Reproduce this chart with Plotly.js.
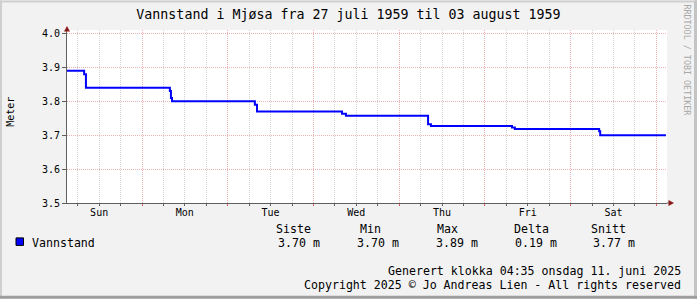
<!DOCTYPE html>
<html>
<head>
<meta charset="utf-8">
<script src="https://cdn.plot.ly/plotly-3.0.1.min.js"></script>
<style>
html,body{margin:0;padding:0;background:#f2f2f2;}
#chart{width:697px;height:299px;}
</style>
</head>
<body>
<div id="chart"></div>
<script>
// ---- data (hours since start of graph, water level in metres) ----
const hours  = [0, 4.8, 5.3, 28.8, 29.1, 29.4, 52.6, 53.2, 77.0, 78.1, 101.1, 101.9, 124.6, 125.4, 149.0, 149.3, 167.7];
const levels = [3.89, 3.88, 3.84, 3.83, 3.81, 3.80, 3.79, 3.77, 3.763, 3.757, 3.732, 3.727, 3.723, 3.718, 3.712, 3.70, 3.70];

const dayNames      = ['Sun', 'Mon', 'Tue', 'Wed', 'Thu', 'Fri', 'Sat'];
const noonHours     = [9, 33, 57, 81, 105, 129, 153];
const midnightHours = [21, 45, 69, 93, 117, 141, 165];
const sixHourGrid   = [3, 9, 15, 27, 33, 39, 51, 57, 63, 75, 81, 87, 99, 105, 111, 123, 129, 135, 147, 153, 159];
const yTicks        = [3.5, 3.6, 3.7, 3.8, 3.9, 4.0];

const seriesName = 'Vannstand';
const statNames  = ['Siste', 'Min', 'Max', 'Delta', 'Snitt'];
const statValues = ['3.70 m', '3.70 m', '3.89 m', '0.19 m', '3.77 m'];

const titleText = 'Vannstand i Mjøsa fra 27 juli 1959 til 03 august 1959';
const yTitle = 'Meter';
const footer1 = 'Generert klokka 04:35 onsdag 11. juni 2025';
const footer2 = 'Copyright 2025 © Jo Andreas Lien - All rights reserved';
const watermark = 'RRDTOOL / TOBI OETIKER';

// ---- layout helpers (pixel -> paper) ----
const L = 67, T = 29.5, W = 600, H = 173.5, FW = 697, FH = 299;
const px = p => (p - L) / W;
const py = p => (T + H - p) / H;
const FONT = 'DejaVu Sans Mono';
const MAJOR = '#efb2b2';
const MINOR = '#d2d2d2';

const statHeadX = [275, 358.5, 435.5, 512.5, 590];
const statValX  = [277, 356, 434.5, 513.5, 592];

const annotations = [];
statNames.forEach((s, i) => annotations.push({
  xref:'paper', yref:'paper', x:px(statHeadX[i]), y:py(229), xanchor:'left', yanchor:'middle',
  text:s, showarrow:false, font:{family:FONT, size:11.6, color:'#000'}, borderpad:0
}));
statValues.forEach((s, i) => annotations.push({
  xref:'paper', yref:'paper', x:px(statValX[i]), y:py(243.5), xanchor:'left', yanchor:'middle',
  text:s, showarrow:false, font:{family:FONT, size:11.6, color:'#000'}, borderpad:0
}));
annotations.push({xref:'paper', yref:'paper', x:px(30.5), y:py(243.5), xanchor:'left', yanchor:'middle',
  text:seriesName, showarrow:false, font:{family:FONT, size:11.6, color:'#000'}, borderpad:0});
annotations.push({xref:'paper', yref:'paper', x:px(682), y:py(271), xanchor:'right', yanchor:'middle',
  text:footer1, showarrow:false, font:{family:FONT, size:11.6, color:'#000'}, borderpad:0});
annotations.push({xref:'paper', yref:'paper', x:px(682), y:py(285.5), xanchor:'right', yanchor:'middle',
  text:footer2, showarrow:false, font:{family:FONT, size:11.6, color:'#000'}, borderpad:0});
annotations.push({xref:'paper', yref:'paper', x:px(10.5), y:py(112), xanchor:'center', yanchor:'middle',
  text:yTitle, textangle:-90, showarrow:false, font:{family:FONT, size:10, color:'#000'}, borderpad:0});
annotations.push({xref:'paper', yref:'paper', x:px(687), y:py(60), xanchor:'center', yanchor:'middle',
  text:watermark, textangle:90, showarrow:false, font:{family:FONT, size:8.4, color:'#a8a8a8'}, borderpad:0});

const rect = (x0, y0, x1, y1, color) => ({type:'rect', xref:'paper', yref:'paper',
  x0:px(x0), x1:px(x1), y0:py(y0), y1:py(y1), fillcolor:color, line:{width:0}, layer:'above'});

const shapes = [
  rect(0, 0, FW, 2, '#cfcfcf'),
  rect(0, 0, 2, FH, '#cfcfcf'),
  rect(FW - 3, 0, FW, FH, '#c4c4c4'),
  rect(0, FH - 3, FW, FH, '#9e9e9e'),
  // legend swatch
  {type:'rect', xref:'paper', yref:'paper', x0:px(16), x1:px(23.5), y0:py(238), y1:py(245.5),
   fillcolor:'#0000ff', line:{color:'#000', width:1}, layer:'above'},
  // axis extension + arrows
  {type:'line', xref:'paper', yref:'paper', x0:px(667), x1:px(670), y0:py(203), y1:py(203),
   line:{color:'#606060', width:1}, layer:'above'},
  {type:'path', xref:'paper', yref:'paper', layer:'above', fillcolor:'#8b1a1a', line:{width:0},
   path:`M ${px(668.5)} ${py(200)} L ${px(674)} ${py(203)} L ${px(668.5)} ${py(206)} Z`},
  {type:'path', xref:'paper', yref:'paper', layer:'above', fillcolor:'#8b1a1a', line:{width:0},
   path:`M ${px(64)} ${py(31)} L ${px(67)} ${py(25.5)} L ${px(70)} ${py(31)} Z`}
];

const traces = [
  {x:hours, y:levels, type:'scatter', mode:'lines', name:seriesName,
   line:{shape:'hv', color:'#0000ff', width:2}, xaxis:'x', yaxis:'y', hoverinfo:'skip'},
  {x:hours, y:levels, type:'scatter', mode:'lines', showlegend:false,
   line:{shape:'hv', width:0}, opacity:0, xaxis:'x2', yaxis:'y', hoverinfo:'skip'},
  {x:hours, y:levels, type:'scatter', mode:'lines', showlegend:false,
   line:{shape:'hv', width:0}, opacity:0, xaxis:'x3', yaxis:'y', hoverinfo:'skip'}
];

const layout = {
  width:FW, height:FH,
  paper_bgcolor:'#f2f2f2', plot_bgcolor:'#ffffff',
  margin:{l:L, r:FW - L - W, t:T, b:FH - T - H, pad:0},
  showlegend:false,
  font:{family:FONT, color:'#000'},
  title:{text:titleText, font:{family:FONT, size:13.3, color:'#000'},
         xref:'container', x:0.5, xanchor:'center', yref:'container', y:1 - 14.5 / FH, yanchor:'middle'},
  xaxis:{range:[0, 168], tickmode:'array', tickvals:noonHours, ticktext:dayNames, ticks:'',
         showgrid:false, zeroline:false, showline:true, linecolor:'#606060', linewidth:1,
         tickfont:{family:FONT, size:10, color:'#000'}, fixedrange:true},
  xaxis3:{overlaying:'x', anchor:'y', side:'bottom', range:[0, 168], tickmode:'array', tickvals:sixHourGrid,
          showticklabels:false, showgrid:true, gridcolor:MINOR, griddash:'1px,1px', gridwidth:1,
          ticks:'outside', ticklen:2, tickcolor:'#606060', zeroline:false, showline:false},
  xaxis2:{overlaying:'x', anchor:'y', side:'bottom', range:[0, 168], tickmode:'array', tickvals:midnightHours,
          showticklabels:false, showgrid:true, gridcolor:MAJOR, griddash:'1px,1px', gridwidth:1,
          ticks:'outside', ticklen:2, tickcolor:'#e06060', zeroline:false, showline:false},
  yaxis:{range:[3.5, 4.0103], tickmode:'array', tickvals:yTicks, tickformat:'.1f',
         showgrid:true, gridcolor:MAJOR, griddash:'1px,1px', gridwidth:1,
         ticks:'outside', ticklen:4, tickcolor:'#606060', showline:true, linecolor:'#606060', linewidth:1,
         zeroline:false, tickfont:{family:FONT, size:10, color:'#000'}, fixedrange:true},
  annotations:annotations,
  shapes:shapes
};

Plotly.newPlot('chart', traces, layout, {staticPlot:true, displayModeBar:false});
</script>
</body>
</html>
